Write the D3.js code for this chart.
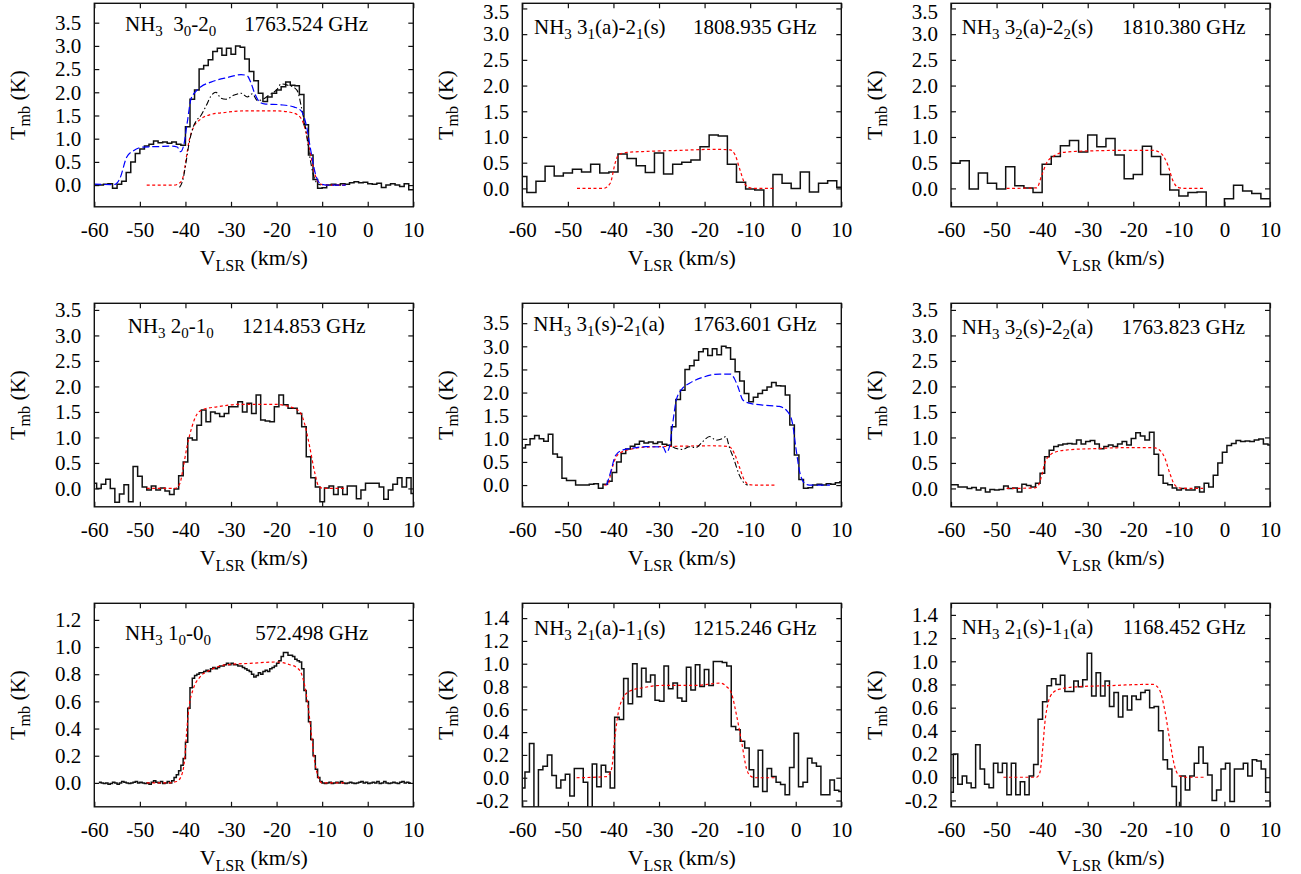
<!DOCTYPE html>
<html><head><meta charset="utf-8">
<script src="https://cdn.jsdelivr.net/npm/d3@7"></script>
<style>
body{margin:0;background:#fff}
svg{display:block}
text{font-family:"Liberation Serif","Times New Roman",serif;fill:#000}
</style>
</head><body>
<svg id="c" width="1301" height="874"></svg>
<script>
// ---------- tick labels ----------
const xTicks = [-60, -50, -40, -30, -20, -10, 0, 10];
const yTicks35 = [0, 0.5, 1.0, 1.5, 2.0, 2.5, 3.0, 3.5];
const yTicks12 = [0, 0.2, 0.4, 0.6, 0.8, 1.0, 1.2];
const yTicks14 = [-0.2, 0, 0.2, 0.4, 0.6, 0.8, 1.0, 1.2, 1.4];

// ---------- panel titles ----------
const names = ["NH_3  3_0-2_0", "NH_3 3_1(a)-2_1(s)", "NH_3 3_2(a)-2_2(s)",
               "NH_3 2_0-1_0", "NH_3 3_1(s)-2_1(a)", "NH_3 3_2(s)-2_2(a)",
               "NH_3 1_0-0_0", "NH_3 2_1(a)-1_1(s)", "NH_3 2_1(s)-1_1(a)"];
const freqs = ["1763.524 GHz", "1808.935 GHz", "1810.380 GHz",
               "1214.853 GHz", "1763.601 GHz", "1763.823 GHz",
               "572.498 GHz", "1215.246 GHz", "1168.452 GHz"];

// ---------- observed spectra (channel start velocity, channel width, Tmb values) ----------
const p1Start = -60, p1Width = 1.0;
const p1Obs = [0.0, 0.0, 0.02, 0.03, -0.07, 0.02, 0.08, 0.27, 0.5, 0.68,
  0.78, 0.84, 0.88, 0.95, 0.91, 0.93, 0.9, 0.93, 0.88, 0.86,
  1.26, 1.85, 2.05, 2.5, 2.58, 2.7, 2.88, 2.95, 2.8, 2.95,
  2.82, 3.0, 2.97, 2.72, 2.45, 2.25, 1.98, 1.8, 1.9, 1.98,
  2.05, 2.12, 2.22, 2.15, 2.14, 1.95, 1.3, 0.65, 0.12, -0.07,
  -0.06, 0.0, 0.02, 0.0, 0.03, 0.02, 0.05, 0.07, 0.05, 0.06,
  0.03, 0.02, 0.04, -0.05, 0.0, 0.03, 0.0, -0.03, 0.03, -0.1];

const p2Start = -61, p2Width = 2.0;
const p2Obs = [0.23, -0.08, 0.14, 0.43, 0.24, 0.3, 0.37, 0.32, 0.47, 0.3,
  0.32, 0.67, 0.58, 0.44, 0.31, 0.69, 0.28, 0.47, 0.51, 0.55,
  0.81, 1.04, 1.02, 0.47, 0.12, -0.01, -0.03, -0.5, 0.27, 0.1,
  0.0, 0.32, -0.07, 0.1, 0.15, 0.02];

const p3Start = -60, p3Width = 2.0;
const p3Obs = [0.49, 0.54, -0.01, 0.3, 0.1, -0.01, 0.42, 0.05, 0.01, -0.08,
  0.47, 0.62, 0.83, 0.93, 0.71, 1.04, 0.81, 0.97, 0.65, 0.19,
  0.27, 0.82, 0.62, 0.27, -0.03, -0.15, -0.08, -0.07, -0.5, -0.5,
  -0.2, 0.06, -0.05, -0.1, -0.2];

const p4Start = -60.49, p4Width = 1.0;
const p4Obs = [0.1, 0.0, 0.08, 0.18, 0.0, -0.27, -0.11, 0.07, -0.26, 0.43,
  0.24, 0.03, -0.03, 0.05, -0.03, 0.01, -0.05, -0.12, -0.01, 0.25,
  0.52, 0.99, 0.95, 1.24, 1.54, 1.31, 1.5, 1.47, 1.41, 1.47,
  1.6, 1.6, 1.7, 1.5, 1.67, 1.47, 1.83, 1.34, 1.32, 1.31,
  1.6, 1.83, 1.64, 1.57, 1.57, 1.47, 1.21, 0.62, 0.21, 0.03,
  -0.26, 0.01, 0.05, -0.12, 0.03, -0.12, 0.05, 0.05, -0.2, -0.03,
  0.1, 0.1, 0.1, 0.03, -0.21, -0.03, 0.08, 0.21, 0.03, 0.21,
  -0.1];

const p5Start = -60.3, p5Width = 1.0;
const p5Obs = [0.8, 0.87, 1.0, 1.07, 1.0, 0.95, 1.1, 0.67, 0.6, 0.15,
  0.1, 0.1, 0.0, 0.0, 0.0, 0.02, 0.03, -0.07, 0.02, 0.08,
  0.27, 0.5, 0.68, 0.78, 0.84, 0.88, 0.95, 0.91, 0.93, 0.9,
  0.93, 0.88, 0.86, 1.26, 1.85, 2.05, 2.5, 2.58, 2.7, 2.88,
  2.95, 2.8, 2.95, 2.82, 3.0, 2.97, 2.72, 2.45, 2.25, 1.98,
  1.8, 1.9, 1.98, 2.05, 2.12, 2.22, 2.15, 2.14, 1.95, 1.3,
  0.65, 0.12, -0.07, -0.06, 0.0, 0.02, 0.0, 0.03, 0.02, 0.05,
  0.07];

const p6Start = -60.45, p6Width = 1.0;
const p6Obs = [0.07, 0.07, 0.03, 0.03, 0.0, 0.02, -0.03, 0.01, -0.07, -0.02,
  -0.03, -0.02, 0.05, 0.0, 0.01, -0.07, 0.08, 0.06, 0.03, 0.1,
  0.3, 0.62, 0.75, 0.82, 0.85, 0.87, 0.88, 0.87, 0.95, 0.87,
  0.92, 0.94, 0.87, 0.78, 0.82, 0.85, 0.82, 0.87, 0.92, 0.85,
  0.98, 1.09, 1.03, 0.95, 1.1, 0.67, 0.26, 0.1, 0.07, 0.01,
  -0.03, 0.0, -0.03, -0.03, 0.03, -0.07, 0.1, 0.03, 0.26, 0.5,
  0.71, 0.84, 0.88, 0.94, 0.92, 0.93, 0.92, 0.95, 0.97, 0.87,
  0.85];

const p7Start = -59, p7Width = 0.5;
const p7Obs = [0.005, 0.0, -0.005, 0.0, -0.01, -0.005, 0.005, 0.0, -0.01, 0.0,
  0.01, 0.005, 0.0, -0.005, 0.0, 0.005, 0.01, 0.0, 0.005, 0.0,
  -0.005, 0.0, -0.01, 0.005, 0.015, 0.005, 0.0, 0.01, -0.005, 0.0,
  0.01, 0.0, 0.015, 0.04, 0.06, 0.09, 0.13, 0.18, 0.3, 0.55,
  0.7, 0.77, 0.79, 0.8, 0.81, 0.81, 0.82, 0.83, 0.82, 0.84,
  0.85, 0.84, 0.85, 0.86, 0.86, 0.87, 0.88, 0.87, 0.88, 0.87,
  0.87, 0.86, 0.86, 0.85, 0.84, 0.83, 0.82, 0.8, 0.78, 0.79,
  0.81, 0.8, 0.82, 0.83, 0.82, 0.84, 0.85, 0.86, 0.88, 0.9,
  0.93, 0.96, 0.96, 0.94, 0.94, 0.93, 0.91, 0.9, 0.89, 0.84,
  0.68, 0.6, 0.45, 0.32, 0.2, 0.1, 0.04, 0.01, 0.0, -0.005,
  0.0, 0.005, -0.005, 0.0, 0.005, 0.0, 0.01, 0.0, -0.005, 0.0,
  0.005, 0.0, -0.005, 0.0, 0.005, 0.01, 0.0, 0.005, -0.005, 0.0,
  0.005, 0.0, 0.01, -0.005, 0.0, 0.01, 0.0, -0.005, 0.0, 0.005,
  0.0, -0.005, 0.005, 0.01, 0.0, 0.005, 0.0];

const p8Start = -60.4, p8Width = 0.984;
const p8Obs = [-0.09, 0.05, 0.3, -0.5, 0.07, 0.1, 0.2, 0.02, -0.09, -0.02,
  0.03, -0.16, 0.08, 0.08, -0.04, -0.4, 0.12, -0.08, 0.11, 0.05,
  -0.09, 0.53, 0.51, 0.87, 0.65, 1.0, 0.71, 0.96, 0.84, 0.9,
  0.68, 0.67, 0.98, 0.78, 0.83, 0.7, 0.67, 0.97, 0.77, 0.99,
  0.8, 0.95, 0.81, 1.02, 1.02, 1.01, 0.98, 0.45, 0.42, 0.32,
  0.26, 0.07, -0.08, 0.24, -0.12, 0.08, 0.01, -0.04, -0.06, -0.15,
  0.09, 0.39, -0.08, -0.04, 0.17, 0.13, 0.1, -0.15, -0.15, -0.02,
  -0.11, -0.12];

const p9Start = -60.47, p9Width = 0.979;
const p9Obs = [-0.13, 0.2, -0.06, 0.01, -0.05, -0.09, 0.28, 0.07, -0.06, -0.09,
  0.12, 0.04, 0.12, -0.15, 0.12, -0.15, -0.04, -0.15, 0.01, 0.11,
  0.5, 0.65, 0.79, 0.85, 0.8, 0.88, 0.74, 0.74, 0.83, 0.78,
  0.84, 1.07, 0.7, 0.9, 0.7, 0.83, 0.61, 0.73, 0.52, 0.7,
  0.58, 0.7, 0.67, 0.73, 0.75, 0.6, 0.61, 0.4, 0.15, 0.07,
  -0.08, -0.35, 0.01, -0.11, 0.01, 0.12, 0.26, 0.12, 0.02, -0.2,
  -0.11, 0.07, 0.12, -0.21, 0.07, 0.07, 0.12, 0.01, 0.15, 0.14,
  0.07, -0.13];

// ---------- model curves [velocity, Tmb] ----------
const p1Red = [[-48.5,0],[-42.5,0],[-41.2,0.05],[-40.4,0.22],[-39.8,0.6],[-39.2,0.95],[-38.2,1.25],[-36.7,1.42],[-34.5,1.52],[-31,1.57],[-27,1.6],[-20.5,1.6],[-17,1.57],[-15.2,1.5],[-14,1.3],[-12.8,0.8],[-11.7,0.27],[-10.6,0.04],[-9.5,0],[-4.8,0]];
const p1Blue = [[-60,0.02],[-56,0.01],[-55.3,0.02],[-54.4,0.14],[-52.9,0.6],[-51.4,0.74],[-49.2,0.82],[-46,0.83],[-43,0.84],[-41.8,0.82],[-41.1,0.72],[-40.4,0.85],[-39.6,1.35],[-38.8,1.85],[-37.7,2.02],[-36.6,2.12],[-34.4,2.22],[-30.7,2.32],[-27.8,2.38],[-26.5,2.36],[-25.6,2.2],[-24.9,2.0],[-23.8,1.8],[-22.7,1.75],[-19,1.73],[-16.1,1.68],[-14.6,1.6],[-13.5,1.3],[-12.5,0.75],[-11.5,0.25],[-10.4,0.03],[-9,0],[-4.8,0]];
const p1DashDot = [[-41.3,-0.05],[-40.6,0.1],[-39.9,0.47],[-39.2,0.9],[-38.3,1.25],[-37.5,1.4],[-36.6,1.5],[-35.5,1.7],[-34.4,1.92],[-33.3,2.0],[-32.2,1.87],[-31.1,1.85],[-29.3,1.94],[-27.8,1.98],[-26.4,1.9],[-25.3,1.97],[-24.2,1.82],[-23,1.85],[-21.5,1.95],[-20,2.05],[-19,2.18],[-17.5,2.15],[-16.1,2.1],[-15.3,2.0],[-14.6,1.7],[-13.6,1.2],[-12.7,0.6],[-12,0.25],[-11.2,0.05],[-10.3,0.0]];

const p2Red = [[-48,0],[-42.2,0],[-40.7,0.1],[-39.6,0.5],[-38.9,0.65],[-37,0.7],[-32.6,0.72],[-25.3,0.74],[-18,0.76],[-14.4,0.75],[-13.3,0.65],[-12.2,0.35],[-11.1,0.08],[-10,0.01],[-8.5,0],[-4.5,0]];
const p3Red = [[-47.8,0],[-41.2,0.01],[-40.1,0.25],[-39,0.5],[-37.6,0.62],[-35.4,0.7],[-32.5,0.72],[-21.6,0.74],[-15.7,0.74],[-13.9,0.68],[-12.4,0.45],[-11.3,0.15],[-10.2,0.02],[-9,0],[-4.4,0]];
const p4Red = [[-48.5,0],[-42.3,0],[-41.2,0.1],[-40.5,0.4],[-39.7,0.8],[-38.6,1.2],[-37.5,1.45],[-36.1,1.55],[-33.1,1.6],[-28,1.65],[-20.7,1.65],[-17,1.6],[-14.9,1.5],[-13.8,1.25],[-12.7,0.8],[-11.6,0.3],[-10.8,0.05],[-9.7,0],[-4.6,0]];

const p5Red = [[-42,0],[-41.2,0.01],[-40.5,0.29],[-39.4,0.61],[-38.6,0.69],[-36.4,0.77],[-32.8,0.82],[-25.5,0.84],[-18.2,0.85],[-14.6,0.83],[-13.5,0.69],[-12.4,0.4],[-11.3,0.11],[-10.2,0.01],[-9,0],[-4.3,0]];
const p5Blue = [[-41.5,0.0],[-40.5,0.32],[-39.7,0.61],[-39,0.7],[-37.9,0.76],[-36.4,0.79],[-32.8,0.83],[-29.1,0.82],[-28.4,0.7],[-27.7,0.83],[-27,1.33],[-26.2,1.84],[-25.1,2.06],[-23.3,2.2],[-20.4,2.33],[-16.7,2.4],[-14.2,2.4],[-13.5,2.31],[-12.7,2.13],[-11.6,1.84],[-10.2,1.77],[-7.3,1.73],[-3.6,1.7],[-1.8,1.59],[-0.7,1.33],[0,0.83],[0.8,0.32],[1.9,0.04],[3,0],[7.5,0]];
const p5DashDot = [[-27,0.83],[-26.2,0.79],[-24.8,0.77],[-23.3,0.83],[-21.9,0.81],[-20.4,0.94],[-18.9,1.05],[-18.2,1.01],[-17.5,0.97],[-16,1.01],[-15.3,1.05],[-14.6,0.83],[-13.5,0.54],[-12.4,0.22],[-11.3,0.04],[-10.5,0]];

const p6Red = [[-47.8,0],[-41.6,0.01],[-40.9,0.05],[-40.1,0.25],[-39.4,0.5],[-38.3,0.65],[-36.9,0.72],[-33.9,0.76],[-28.8,0.78],[-21.5,0.8],[-15.7,0.8],[-14.2,0.75],[-13.1,0.6],[-12,0.3],[-11,0.08],[-9.9,0.01],[-8.5,0],[-4.7,0]];
const p7Red = [[-48.5,0],[-44.1,0],[-41.9,0.01],[-40.8,0.06],[-40.1,0.2],[-39.7,0.39],[-39.2,0.56],[-38.3,0.69],[-36.8,0.78],[-34.6,0.83],[-31,0.87],[-25.8,0.88],[-20,0.89],[-17.1,0.87],[-15.6,0.85],[-14.5,0.8],[-13.8,0.71],[-13,0.54],[-12.3,0.34],[-11.6,0.15],[-10.8,0.04],[-10.1,0],[-4.6,0]];
const p8Red = [[-48.1,0],[-41.5,0.01],[-40.4,0.08],[-39.7,0.35],[-38.9,0.58],[-37.9,0.7],[-36.4,0.76],[-33.5,0.79],[-29.1,0.81],[-21.8,0.81],[-16.6,0.83],[-15.2,0.8],[-14.1,0.74],[-13,0.55],[-11.9,0.32],[-10.8,0.08],[-10.1,0.02],[-9,0],[-4.6,0]];
const p9Red = [[-48.5,0],[-41.2,0],[-40.5,0.04],[-39.9,0.24],[-39.4,0.47],[-38.7,0.64],[-37.6,0.73],[-36.1,0.76],[-32.4,0.78],[-25.1,0.79],[-17.8,0.8],[-15.6,0.8],[-14.2,0.75],[-13.1,0.58],[-12,0.32],[-10.9,0.09],[-9.8,0.01],[-8.5,0],[-4.4,0]];

// ---------- layout ----------
const colX = [94.3, 522.3, 951];
const rowY = [3.3, 303.3, 603.3];
const PW = 319, PH = 203.5;
const titleBase = [27.7, 30.7, 31, 29.7, 27.4, 30.7, 36.7, 31.7, 30.7];
const nameOff = [30.7, 11.7, 10.7, 33.4, 11, 10.7, 30.7, 11.7, 10.7];
const freqEnd = [45.3, 24.6, 24.3, 47.6, 24.6, 24.8, 45, 24.6, 24.3];

const panels = [
  {obs:[p1Start,p1Width,p1Obs], y:[-0.468,3.918], yt:yTicks35, red:p1Red, blue:p1Blue, dd:p1DashDot},
  {obs:[p2Start,p2Width,p2Obs], y:[-0.358,3.6], yt:yTicks35, red:p2Red},
  {obs:[p3Start,p3Width,p3Obs], y:[-0.358,3.6], yt:yTicks35, red:p3Red},
  {obs:[p4Start,p4Width,p4Obs], y:[-0.36,3.63], yt:yTicks35, red:p4Red},
  {obs:[p5Start,p5Width,p5Obs], y:[-0.47,3.93], yt:yTicks35, red:p5Red, blue:p5Blue, dd:p5DashDot},
  {obs:[p6Start,p6Width,p6Obs], y:[-0.36,3.63], yt:yTicks35, red:p6Red},
  {obs:[p7Start,p7Width,p7Obs], y:[-0.176,1.322], yt:yTicks12, red:p7Red},
  {obs:[p8Start,p8Width,p8Obs], y:[-0.255,1.53], yt:yTicks14, red:p8Red},
  {obs:[p9Start,p9Width,p9Obs], y:[-0.255,1.5], yt:yTicks14, red:p9Red}
];

const svg = d3.select("#c");
const FS_TICK = 21, FS_TITLE = 21, FS_AXIS = 22;

function richText(sel, str, sub, subdy) {
  // "_" marks a one-character subscript
  const segs = [];
  let buf = "";
  for (let i = 0; i < str.length; i++) {
    if (str[i] === "_") { if (buf) segs.push([buf, 0]); buf = ""; segs.push([str[i+1], 1]); i++; }
    else buf += str[i];
  }
  if (buf) segs.push([buf, 0]);
  let prevSub = false;
  segs.forEach(([t, s]) => {
    const ts = sel.append("tspan").text(t).style("white-space", "pre");
    if (s) { ts.attr("font-size", sub); if (!prevSub) ts.attr("dy", subdy); }
    else if (prevSub) ts.attr("dy", -subdy);
    prevSub = !!s;
  });
}

panels.forEach((p, k) => {
  const col = k % 3, row = Math.floor(k / 3);
  const L = colX[col], T = rowY[row];
  const x = d3.scaleLinear().domain([-60, 10]).range([L, L + PW]);
  const y = d3.scaleLinear().domain(p.y).range([T + PH, T]);
  const g = svg.append("g");
  const cid = "clip" + k;
  g.append("clipPath").attr("id", cid).append("rect")
    .attr("x", L).attr("y", T).attr("width", PW).attr("height", PH);
  const plot = g.append("g").attr("clip-path", `url(#${cid})`);

  // histogram
  const [v0, dv, vals] = p.obs;
  const pts = vals.map((t, i) => [v0 + i * dv, t]);
  pts.push([v0 + vals.length * dv, vals[vals.length - 1]]);
  const step = d3.line().x(d => x(d[0])).y(d => y(d[1])).curve(d3.curveStepAfter);
  plot.append("path").attr("d", step(pts)).attr("fill", "none")
    .attr("stroke", "#111").attr("stroke-width", 1.5);

  const smooth = d3.line().x(d => x(d[0])).y(d => y(d[1])).curve(d3.curveMonotoneX);
  if (p.red) plot.append("path").attr("d", smooth(p.red)).attr("fill", "none")
    .attr("stroke", "#ff0000").attr("stroke-width", 1.2).attr("stroke-dasharray", "3,2.5");
  if (p.dd) plot.append("path").attr("d", smooth(p.dd)).attr("fill", "none")
    .attr("stroke", "#000").attr("stroke-width", 1.1).attr("stroke-dasharray", "6,2.5,1.5,2.5");
  if (p.blue) plot.append("path").attr("d", smooth(p.blue)).attr("fill", "none")
    .attr("stroke", "#0000ff").attr("stroke-width", 1.2).attr("stroke-dasharray", "7,3");

  // axes (inward ticks on all sides)
  const fmtY = v => v.toFixed(1);
  const fmtX = v => String(v);
  const ax = [
    g.append("g").attr("transform", `translate(0,${T + PH})`)
      .call(d3.axisBottom(x).tickValues(xTicks).tickSize(-5).tickPadding(15).tickFormat(fmtX)),
    g.append("g").attr("transform", `translate(0,${T})`)
      .call(d3.axisTop(x).tickValues(xTicks).tickSize(-5).tickFormat("")),
    g.append("g").attr("transform", `translate(${L},0)`)
      .call(d3.axisLeft(y).tickValues(p.yt).tickSize(-5).tickPadding(13).tickFormat(fmtY)),
    g.append("g").attr("transform", `translate(${L + PW},0)`)
      .call(d3.axisRight(y).tickValues(p.yt).tickSize(-5).tickFormat(""))
  ];
  ax.forEach(a => {
    a.attr("font-size", FS_TICK).attr("font-family", '"Liberation Serif","Times New Roman",serif');
    a.select(".domain").remove();
    a.selectAll(".tick line").attr("stroke", "#111").attr("stroke-width", 1.2);
    a.selectAll(".tick text").attr("fill", "#000");
  });
  // keep a label sitting right at the canvas top fully inside the picture
  ax[2].selectAll(".tick").filter(d => y(d) < 12).select("text").attr("dy", "0.5em");

  // frame
  g.append("rect").attr("x", L).attr("y", T).attr("width", PW).attr("height", PH)
    .attr("fill", "none").attr("stroke", "#111").attr("stroke-width", 1.4);

  // title inside panel
  const tt = g.append("text").attr("x", L + nameOff[k]).attr("y", T + titleBase[k])
    .attr("font-size", FS_TITLE);
  richText(tt, names[k], 15, 5);
  g.append("text").attr("x", L + PW - freqEnd[k]).attr("y", T + titleBase[k])
    .attr("font-size", FS_TITLE).attr("text-anchor", "end").text(freqs[k]);

  // x-axis title
  const xt = g.append("text").attr("x", L + PW / 2).attr("y", T + PH + 58.5)
    .attr("font-size", FS_AXIS).attr("text-anchor", "middle");
  richText(xt, "V_L_S_R (km/s)", 16, 5.5);

  // y-axis title
  const yt = g.append("text")
    .attr("transform", `translate(${L - 69.5},${T + PH / 2}) rotate(-90)`)
    .attr("font-size", FS_AXIS).attr("text-anchor", "middle");
  richText(yt, "T_m_b (K)", 16, 5.5);
});
</script>
</body></html>
